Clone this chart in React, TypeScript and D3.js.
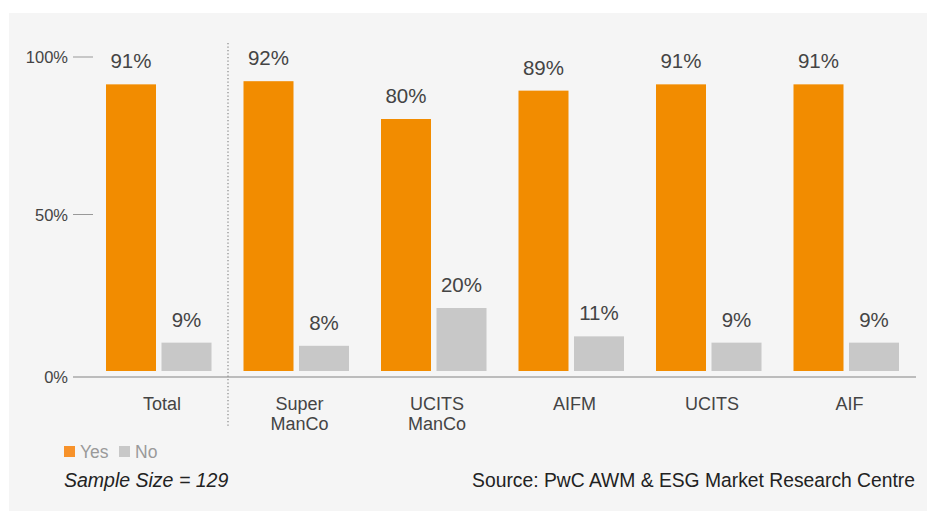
import React from "react";
import * as d3 from "d3";

const categories = ["Total", "Super ManCo", "UCITS ManCo", "AIFM", "UCITS", "AIF"];
const categoryLines = [["Total"], ["Super", "ManCo"], ["UCITS", "ManCo"], ["AIFM"], ["UCITS"], ["AIF"]];
const yesValues = [91, 92, 80, 89, 91, 91];
const noValues = [9, 8, 20, 11, 9, 9];
const yTicks = [0, 50, 100];
const seriesNames = ["Yes", "No"];

const W = 927;
const H = 511;
const ORANGE = "#f28c00";
const GREY = "#c8c8c8";
const FONT = "'Liberation Sans', Arial, Helvetica, sans-serif";

export default function App() {
  const y = d3.scaleLinear().domain([0, 100]).range([371, 56]);
  const x = d3.scaleBand<string>().domain(categories).range([106, 106 + 6 * 137.5]).padding(0);
  const barW = 50;
  const gap = 5.5;
  const axisY = y(0) + 6;

  return (
    <svg width={W} height={H} style={{ position: "absolute", left: 0, top: 0, display: "block" }} fontFamily={FONT}>
      <rect x={0} y={0} width={W} height={H} fill="#ffffff" />
      <rect x={9} y={13} width={W - 9} height={H - 13} fill="#f5f5f5" />

      {/* y ticks */}
      {yTicks.map((t) => {
        const ty = t === 0 ? axisY : y(t) + 1;
        return (
          <g key={t}>
            {t !== 0 && <line x1={73} x2={93} y1={ty} y2={ty} stroke="#999" strokeWidth={1} />}
            <text x={68} y={ty + 6} textAnchor="end" fontSize={16.5} fill="#444">
              {t}%
            </text>
          </g>
        );
      })}

      {/* baseline */}
      <line x1={73} x2={916} y1={axisY} y2={axisY} stroke="#a8a8a8" strokeWidth={1.5} />

      {/* separator */}
      <line x1={228} x2={228} y1={43} y2={428} stroke="#888" strokeWidth={1.2} strokeDasharray="1.2,2.3" />

      {categories.map((c, i) => {
        const bx = x(c)!;
        const yes = yesValues[i];
        const no = noValues[i];
        const nx = bx + barW + gap;
        const cx = bx + 56;
        return (
          <g key={c}>
            <rect x={bx} y={y(yes)} width={barW} height={y(0) - y(yes)} fill={ORANGE} />
            <rect x={nx} y={y(no)} width={barW} height={y(0) - y(no)} fill={GREY} />
            <text x={bx + barW / 2} y={y(yes) - 16} textAnchor="middle" fontSize={20.5} fill="#444">
              {yes}%
            </text>
            <text x={nx + barW / 2} y={y(no) - 16} textAnchor="middle" fontSize={20.5} fill="#444">
              {no}%
            </text>
            {categoryLines[i].map((ln, j) => (
              <text key={j} x={cx} y={410 + j * 20} textAnchor="middle" fontSize={18} fill="#444">
                {ln}
              </text>
            ))}
          </g>
        );
      })}

      {/* legend */}
      <rect x={64} y={446} width={11} height={11} fill="#f7922a" />
      <text x={80} y={457.5} fontSize={17.5} fill="#9a9a9a">{seriesNames[0]}</text>
      <rect x={119} y={446} width={11} height={11} fill={GREY} />
      <text x={135} y={457.5} fontSize={17.5} fill="#9a9a9a">{seriesNames[1]}</text>

      <text x={64} y={487} fontSize={19.5} fontStyle="italic" fill="#222">Sample Size = 129</text>
      <text x={915} y={487} fontSize={19.3} textAnchor="end" fill="#222">
        Source: PwC AWM &amp; ESG Market Research Centre
      </text>
    </svg>
  );
}
